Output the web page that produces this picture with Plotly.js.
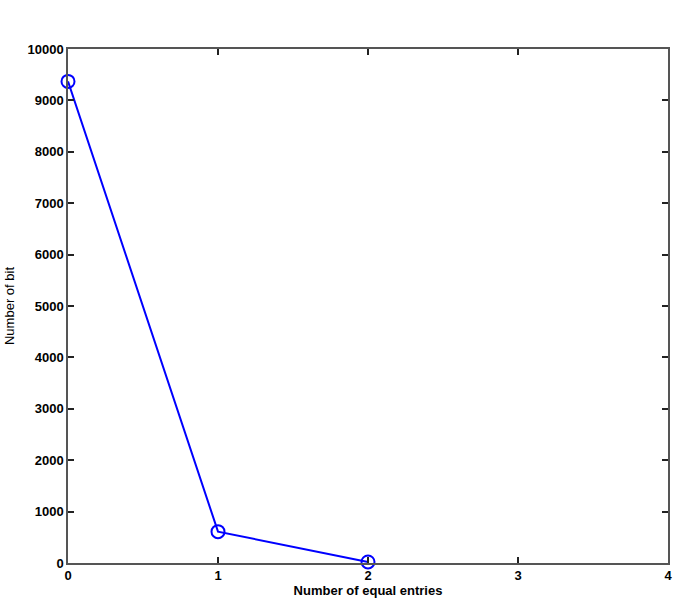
<!DOCTYPE html>
<html>
<head>
<meta charset="utf-8">
<script src="https://cdn.plot.ly/plotly-3.0.1.min.js"></script>
<style>
  html, body { margin: 0; padding: 0; background: #fff; }
  #chart { width: 675px; height: 604px; }
</style>
</head>
<body>
<div id="chart"></div>
<script>
// equal entries vs bit count
const entries = [0, 1, 2];
const bits = [9370, 610, 20];
const xTicks = [0, 1, 2, 3, 4];
const yTicks = [0, 1000, 2000, 3000, 4000, 5000, 6000, 7000, 8000, 9000, 10000];

const trace = {
    x: entries,
    y: bits,
    type: 'scatter',
    mode: 'lines+markers',
    line: {color: '#0000ff', width: 2},
    marker: {symbol: 'circle-open', size: 13, color: '#0000ff', line: {width: 2, color: '#0000ff'}},
    cliponaxis: false
};

const axisCommon = {
    showgrid: false,
    zeroline: false,
    showline: true,
    linecolor: '#555',
    linewidth: 1.5,
    mirror: 'ticks',
    ticks: 'inside',
    ticklen: 6,
    tickwidth: 1.5,
    tickcolor: '#222',
    tickfont: {family: 'Liberation Sans, Arial, sans-serif', size: 13, color: '#000', weight: 'bold'}
};

const layout = {
    width: 675,
    height: 604,
    margin: {l: 68, r: 7, t: 49, b: 41},
    paper_bgcolor: '#fff',
    plot_bgcolor: '#fff',
    showlegend: false,
    xaxis: Object.assign({}, axisCommon, {
        range: [0, 4],
        tickvals: xTicks,
        ticktext: xTicks.map(String),
        title: {text: 'Number of equal entries', standoff: 4,
                font: {family: 'Liberation Sans, Arial, sans-serif', size: 13, color: '#000', weight: 'bold'}}
    }),
    yaxis: Object.assign({}, axisCommon, {
        range: [0, 10000],
        tickvals: yTicks,
        ticktext: yTicks.map(String),
        title: {text: 'Number of bit', standoff: 10,
                font: {family: 'Liberation Sans, Arial, sans-serif', size: 13, color: '#000'}}
    })
};

Plotly.newPlot('chart', [trace], layout, {displayModeBar: false});
</script>
</body>
</html>
